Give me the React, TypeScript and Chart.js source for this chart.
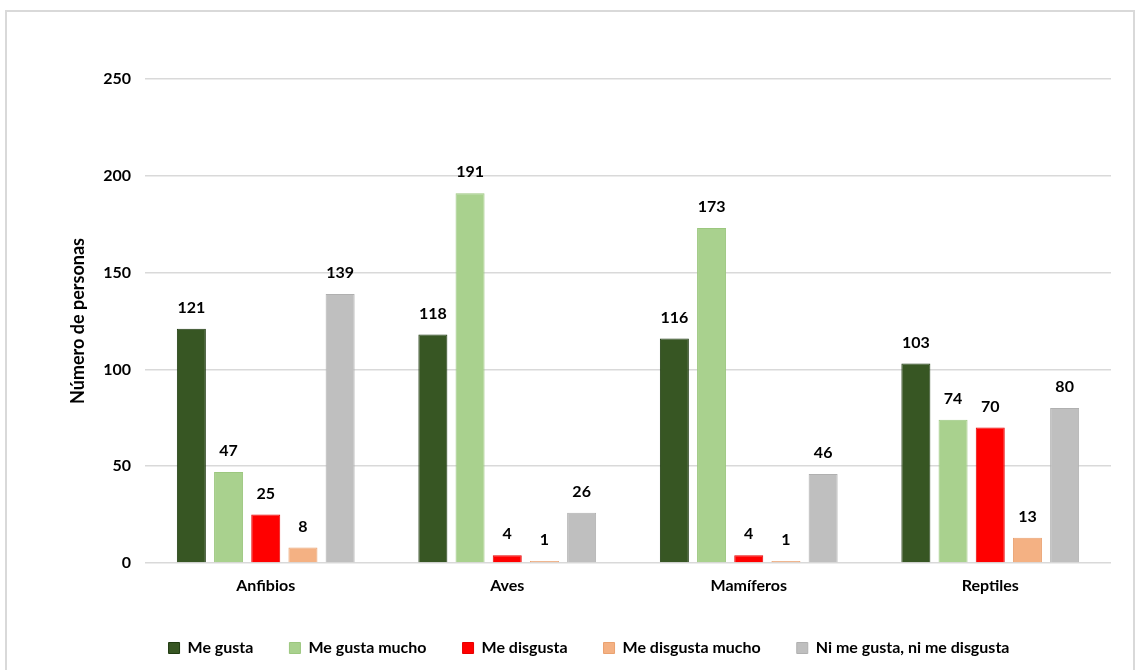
import React, { useEffect, useRef } from "react";
import { Chart, registerables } from "chart.js";

Chart.register(...registerables);

const categories = ["Anfibios", "Aves", "Mamíferos", "Reptiles"];
const seriesNames = ["Me gusta", "Me gusta mucho", "Me disgusta", "Me disgusta mucho", "Ni me gusta, ni me disgusta"];
const meGusta = [121, 118, 116, 103];
const meGustaMucho = [47, 191, 173, 74];
const meDisgusta = [25, 4, 4, 70];
const meDisgustaMucho = [8, 1, 1, 13];
const niNi = [139, 26, 46, 80];
const fills = ["#375623", "#a9d18e", "#ff0000", "#f4b183", "#bfbfbf"];
const borders = ["#1f3a10", "#9cc77f", "#e60000", "#eaa270", "#b0b0b0"];

const FONT = "Lato, 'Open Sans', sans-serif";

const labelPlugin = {
  id: "valueLabels",
  afterDatasetsDraw(chart: any) {
    const ctx = chart.ctx;
    ctx.save();
    ctx.font = `bold 16px ${FONT}`;
    ctx.fillStyle = "#000";
    ctx.textAlign = "center";
    ctx.textBaseline = "middle";
    chart.data.datasets.forEach((ds: any, i: number) => {
      const meta = chart.getDatasetMeta(i);
      meta.data.forEach((bar: any, j: number) => {
        ctx.fillText(String(ds.data[j]), bar.x, bar.y - 21);
      });
    });
    ctx.restore();
  },
};

export default function App() {
  const ref = useRef<HTMLCanvasElement>(null);
  useEffect(() => {
    const all = [meGusta, meGustaMucho, meDisgusta, meDisgustaMucho, niNi];
    const chart = new Chart(ref.current!, {
      type: "bar",
      data: {
        labels: categories,
        datasets: all.map((d, i) => ({
          label: seriesNames[i],
          data: d,
          backgroundColor: fills[i],
          borderColor: borders[i],
          borderWidth: 1,
          categoryPercentage: 0.77,
          barPercentage: 0.78,
        })),
      },
      options: {
        responsive: false,
        animation: false,
        layout: { padding: { left: 67, top: 79, right: 29, bottom: 4 } },
        plugins: {
          tooltip: { enabled: false },
          legend: {
            position: "bottom",
            labels: {
              boxWidth: 11,
              boxHeight: 11,
              padding: 36,
              color: "#000",
              font: { family: FONT, size: 16, weight: "bold" },
            },
          },
        },
        scales: {
          x: {
            grid: { display: false },
            border: { display: false },
            ticks: { color: "#000", padding: 5, font: { family: FONT, size: 16, weight: "bold" } },
            afterFit(scale: any) {
              scale.height = 41;
            },
          },
          y: {
            min: 0,
            max: 250,
            ticks: { stepSize: 50, color: "#000", padding: 14, font: { family: FONT, size: 16, weight: "bold" } },
            grid: { color: "#d9d9d9", lineWidth: 1.5, drawTicks: false },
            border: { display: false },
            title: {
              display: true,
              text: "Número de personas",
              color: "#000",
              font: { family: FONT, size: 18, weight: "bold" },
              padding: { top: 0, bottom: 0 },
            },
            afterFit(scale: any) {
              scale.width = 78;
            },
          },
        },
      },
      plugins: [labelPlugin],
    });
    return () => chart.destroy();
  }, []);
  return (
    <div style={{ position: "fixed", left: 0, top: 0, width: 1140, height: 670, overflow: "hidden", background: "#fff" }}>
      <div
        style={{
          position: "absolute",
          left: 5,
          top: 10,
          width: 1126,
          height: 700,
          border: "2px solid #d9d9d9",
        }}
      />
      <canvas ref={ref} width={1140} height={670} style={{ position: "absolute", left: 0, top: 0 }} />
    </div>
  );
}
